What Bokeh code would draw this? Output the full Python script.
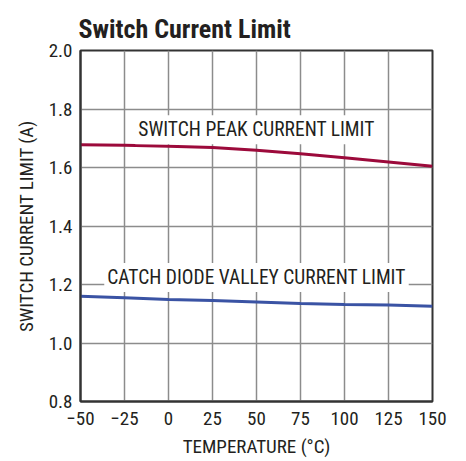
from bokeh.plotting import figure
from bokeh.models import Label, FixedTicker, Range1d
from bokeh.embed import file_html
from bokeh.resources import INLINE

temps = [-50, -25, 0, 25, 50, 75, 100, 125, 150]
peak_limit = [1.678, 1.676, 1.673, 1.668, 1.659, 1.647, 1.633, 1.619, 1.604]
valley_limit = [1.160, 1.155, 1.149, 1.145, 1.140, 1.135, 1.132, 1.130, 1.126]
x_ticks = [-50, -25, 0, 25, 50, 75, 100, 125, 150]
x_tick_labels = ["\u221250", "\u221225", "0", "25", "50", "75", "100", "125", "150"]
y_ticks = [0.8, 1.0, 1.2, 1.4, 1.6, 1.8, 2.0]
y_tick_labels = ["0.8", "1.0", "1.2", "1.4", "1.6", "1.8", "2.0"]

FONT = "Roboto Condensed"

p = figure(width=457, height=460, output_backend="svg", toolbar_location=None,
           x_range=Range1d(-50, 150), y_range=Range1d(0.8, 2.0),
           min_border_left=80, min_border_right=25, min_border_top=50, min_border_bottom=57)

p.title.text = "Switch Current Limit"
p.title.text_font = FONT
p.title.text_font_size = "26px"
p.title.text_font_style = "bold"
p.title.text_color = "#231f20"
p.title.align = "left"
p.title.standoff = 14
p.title.offset = -2

p.line(temps, peak_limit, line_color="#9c0a3b", line_width=3)
p.line(temps, valley_limit, line_color="#3a53a4", line_width=3)

for ax in (p.xaxis[0], p.yaxis[0]):
    ax.major_label_text_font = FONT
    ax.major_label_text_font_size = "19px"
    ax.major_label_text_color = "#231f20"
    ax.axis_label_text_font = FONT
    ax.axis_label_text_font_size = "19px"
    ax.axis_label_text_font_style = "normal"
    ax.axis_label_text_color = "#231f20"
    ax.major_tick_out = 0
    ax.major_tick_in = 0
    ax.minor_tick_out = 0
    ax.minor_tick_in = 0
    ax.axis_line_color = "#333333"
    ax.axis_line_width = 2

p.xaxis.major_label_standoff = 10
p.yaxis.major_label_standoff = 8
p.xaxis.ticker = FixedTicker(ticks=x_ticks)
p.xaxis.major_label_overrides = {t: l for t, l in zip(x_ticks, x_tick_labels)}
p.yaxis.ticker = FixedTicker(ticks=y_ticks)
p.yaxis.major_label_overrides = {t: l for t, l in zip(y_ticks, y_tick_labels)}
p.xaxis.axis_label = "TEMPERATURE (\u00b0C)"
p.yaxis.axis_label = "SWITCH CURRENT LIMIT (A)"
p.xaxis.axis_label_standoff = 7
p.yaxis.axis_label_standoff = 8

p.xgrid.grid_line_color = "#8c8c8c"
p.ygrid.grid_line_color = "#8c8c8c"
p.xgrid.grid_line_width = 1.5
p.ygrid.grid_line_width = 1.5

p.outline_line_color = "#333333"
p.outline_line_width = 2
p.background_fill_color = "white"
p.border_fill_color = "white"

lbl1 = Label(x=50, y=1.729, text="SWITCH PEAK CURRENT LIMIT", text_align="center",
             text_baseline="middle", text_font=FONT, text_font_size="19.5px",
             text_color="#231f20", background_fill_color="white", padding=3)
lbl2 = Label(x=50, y=1.224, text="CATCH DIODE VALLEY CURRENT LIMIT", text_align="center",
             text_baseline="middle", text_font=FONT, text_font_size="19.5px",
             text_color="#231f20", background_fill_color="white", padding=3)
p.add_layout(lbl1)
p.add_layout(lbl2)

open("out.html", "w").write(file_html(p, INLINE))
